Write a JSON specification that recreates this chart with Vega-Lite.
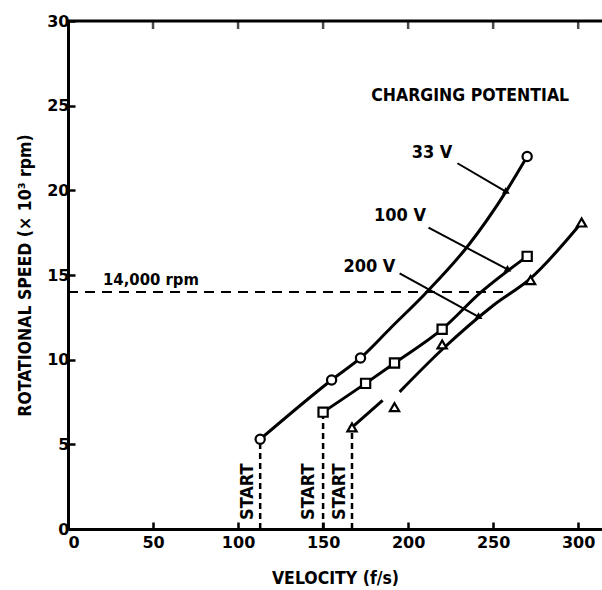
{
  "$schema": "https://vega.github.io/schema/vega-lite/v6.json",
  "width": 534,
  "height": 508,
  "autosize": {"type": "none"},
  "padding": {"left": 68, "top": 21, "right": 0, "bottom": 61},
  "background": "white",
  "config": {
    "view": {"stroke": null},
    "font": "Liberation Sans Narrow, DejaVu Sans Condensed, DejaVu Sans",
    "text": {"font": "Liberation Sans Narrow, DejaVu Sans Condensed, DejaVu Sans", "fontWeight": "bold", "color": "black"},
    "axis": {"grid": false, "domainColor": "black", "domainWidth": 3, "tickColor": "black", "tickWidth": 2.5, "labelColor": "black", "titleColor": "black", "labelFont": "DejaVu Sans", "titleFont": "Liberation Sans Narrow, DejaVu Sans Condensed, DejaVu Sans", "labelFontWeight": "bold", "titleFontWeight": "bold", "labelFontSize": 16, "titleFontSize": 17.5}
  },
  "datasets": {
    "points": [
      {"series": "33 V", "v": 113, "rpm": 5.3},
      {"series": "33 V", "v": 155, "rpm": 8.8},
      {"series": "33 V", "v": 172, "rpm": 10.1},
      {"series": "33 V", "v": 270, "rpm": 22.0},
      {"series": "100 V", "v": 150, "rpm": 6.9},
      {"series": "100 V", "v": 175, "rpm": 8.6},
      {"series": "100 V", "v": 192, "rpm": 9.8},
      {"series": "100 V", "v": 220, "rpm": 11.8},
      {"series": "100 V", "v": 270, "rpm": 16.1},
      {"series": "200 V", "v": 167, "rpm": 6.0},
      {"series": "200 V", "v": 192, "rpm": 7.2},
      {"series": "200 V", "v": 220, "rpm": 10.9},
      {"series": "200 V", "v": 272, "rpm": 14.7},
      {"series": "200 V", "v": 302, "rpm": 18.1}
    ],
    "curves": [
      {"series": "33 V", "seg": "a", "v": 113, "rpm": 5.3},
      {"series": "33 V", "seg": "a", "v": 155, "rpm": 8.8},
      {"series": "33 V", "seg": "a", "v": 172, "rpm": 10.1},
      {"series": "33 V", "seg": "a", "v": 190, "rpm": 11.9},
      {"series": "33 V", "seg": "a", "v": 211, "rpm": 14.0},
      {"series": "33 V", "seg": "a", "v": 235, "rpm": 16.7},
      {"series": "33 V", "seg": "a", "v": 258, "rpm": 20.0},
      {"series": "33 V", "seg": "a", "v": 270, "rpm": 22.0},
      {"series": "100 V", "seg": "b", "v": 150, "rpm": 6.9},
      {"series": "100 V", "seg": "b", "v": 175, "rpm": 8.6},
      {"series": "100 V", "seg": "b", "v": 192, "rpm": 9.8},
      {"series": "100 V", "seg": "b", "v": 220, "rpm": 11.8},
      {"series": "100 V", "seg": "b", "v": 243, "rpm": 14.0},
      {"series": "100 V", "seg": "b", "v": 270, "rpm": 16.1},
      {"series": "200 V", "seg": "c", "v": 167, "rpm": 6.0},
      {"series": "200 V", "seg": "c", "v": 185, "rpm": 7.6},
      {"series": "200 V", "seg": "d", "v": 195, "rpm": 8.1},
      {"series": "200 V", "seg": "d", "v": 220, "rpm": 10.6},
      {"series": "200 V", "seg": "d", "v": 250, "rpm": 13.2},
      {"series": "200 V", "seg": "d", "v": 272, "rpm": 14.8},
      {"series": "200 V", "seg": "d", "v": 302, "rpm": 18.1}
    ],
    "arrows": [
      {"label": "33 V", "v": 229, "rpm": 21.6, "v2": 258, "rpm2": 19.9},
      {"label": "100 V", "v": 212, "rpm": 17.8, "v2": 259, "rpm2": 15.3},
      {"label": "200 V", "v": 195, "rpm": 15.1, "v2": 242, "rpm2": 12.5}
    ],
    "labels": [
      {"text": "33 V", "v": 226, "rpm": 22.2},
      {"text": "100 V", "v": 210.5, "rpm": 18.5},
      {"text": "200 V", "v": 192.5, "rpm": 15.5}
    ],
    "starts": [
      {"v": 113, "rpm": 5.3, "base": 0, "lv": 106, "lrpm": 2.2},
      {"v": 150, "rpm": 6.9, "base": 0, "lv": 142, "lrpm": 2.2},
      {"v": 167, "rpm": 6.0, "base": 0, "lv": 159.7, "lrpm": 2.2}
    ],
    "topticks": [{"v": 50, "rpm": 30}, {"v": 100, "rpm": 30}, {"v": 150, "rpm": 30}, {"v": 200, "rpm": 30}, {"v": 250, "rpm": 30}, {"v": 300, "rpm": 30}]
  },
  "layer": [
    {
      "data": {"name": "curves"},
      "mark": {"type": "line", "color": "black", "strokeWidth": 3, "interpolate": "monotone"},
      "encoding": {
        "x": {"field": "v", "type": "quantitative", "scale": {"domain": [0, 314], "nice": false}, "axis": {"values": [0, 50, 100, 150, 200, 250, 300], "tickSize": -7, "labelPadding": 12, "title": "VELOCITY (f/s)", "titlePadding": 19}},
        "y": {"field": "rpm", "type": "quantitative", "scale": {"domain": [0, 30], "nice": false}, "axis": {"values": [0, 5, 10, 15, 20, 25, 30], "tickSize": -7, "labelPadding": 6, "title": "ROTATIONAL SPEED (× 10³ rpm)", "titlePadding": 12}},
        "detail": {"field": "seg", "type": "nominal"}
      }
    },
    {
      "data": {"values": [{"v": 0, "v2": 314, "rpm": 30}]},
      "mark": {"type": "rule", "color": "black", "strokeWidth": 3},
      "encoding": {
        "x": {"field": "v", "type": "quantitative"},
        "x2": {"field": "v2"},
        "y": {"field": "rpm", "type": "quantitative"}
      }
    },
    {
      "data": {"name": "topticks"},
      "mark": {"type": "tick", "orient": "vertical", "color": "black", "thickness": 2.5, "size": 8, "yOffset": 4},
      "encoding": {
        "x": {"field": "v", "type": "quantitative"},
        "y": {"field": "rpm", "type": "quantitative"}
      }
    },
    {
      "data": {"values": [{"v": 0, "v2": 260, "rpm": 14}]},
      "mark": {"type": "rule", "color": "black", "strokeWidth": 2, "strokeDash": [10, 7]},
      "encoding": {
        "x": {"field": "v", "type": "quantitative"},
        "x2": {"field": "v2"},
        "y": {"field": "rpm", "type": "quantitative"}
      }
    },
    {
      "data": {"name": "starts"},
      "mark": {"type": "rule", "color": "black", "strokeWidth": 2.5, "strokeDash": [6, 4]},
      "encoding": {
        "x": {"field": "v", "type": "quantitative"},
        "y": {"field": "base", "type": "quantitative"},
        "y2": {"field": "rpm"}
      }
    },
    {
      "data": {"name": "starts"},
      "mark": {"type": "text", "angle": 270, "fontSize": 18, "align": "center", "baseline": "middle"},
      "encoding": {
        "x": {"field": "lv", "type": "quantitative"},
        "y": {"field": "lrpm", "type": "quantitative"},
        "text": {"value": "START"}
      }
    },
    {
      "data": {"name": "arrows"},
      "mark": {"type": "rule", "color": "black", "strokeWidth": 2},
      "encoding": {
        "x": {"field": "v", "type": "quantitative"},
        "x2": {"field": "v2"},
        "y": {"field": "rpm", "type": "quantitative"},
        "y2": {"field": "rpm2"}
      }
    },
    {
      "data": {"name": "arrows"},
      "mark": {"type": "point", "shape": "triangle-right", "angle": 29, "filled": true, "color": "black", "size": 60, "opacity": 1},
      "encoding": {
        "x": {"field": "v2", "type": "quantitative"},
        "y": {"field": "rpm2", "type": "quantitative"}
      }
    },
    {
      "data": {"name": "points"},
      "mark": {"type": "point", "filled": false, "fill": "white", "fillOpacity": 1, "stroke": "black", "strokeWidth": 2.2, "size": 85, "opacity": 1},
      "encoding": {
        "x": {"field": "v", "type": "quantitative"},
        "y": {"field": "rpm", "type": "quantitative"},
        "shape": {"field": "series", "type": "nominal", "legend": null, "scale": {"domain": ["33 V", "100 V", "200 V"], "range": ["circle", "square", "triangle-up"]}}
      }
    },
    {
      "data": {"name": "labels"},
      "mark": {"type": "text", "align": "right", "baseline": "middle", "fontSize": 18},
      "encoding": {
        "x": {"field": "v", "type": "quantitative"},
        "y": {"field": "rpm", "type": "quantitative"},
        "text": {"field": "text", "type": "nominal"}
      }
    },
    {
      "data": {"values": [{"text": "CHARGING POTENTIAL", "v": 236.5, "rpm": 25.6}]},
      "mark": {"type": "text", "align": "center", "baseline": "middle", "fontSize": 17.5},
      "encoding": {
        "x": {"field": "v", "type": "quantitative"},
        "y": {"field": "rpm", "type": "quantitative"},
        "text": {"field": "text", "type": "nominal"}
      }
    },
    {
      "data": {"values": [{"text": "14,000 rpm", "v": 20.6, "rpm": 14.7}]},
      "mark": {"type": "text", "align": "left", "baseline": "middle", "fontSize": 16.5},
      "encoding": {
        "x": {"field": "v", "type": "quantitative"},
        "y": {"field": "rpm", "type": "quantitative"},
        "text": {"field": "text", "type": "nominal"}
      }
    }
  ]
}
